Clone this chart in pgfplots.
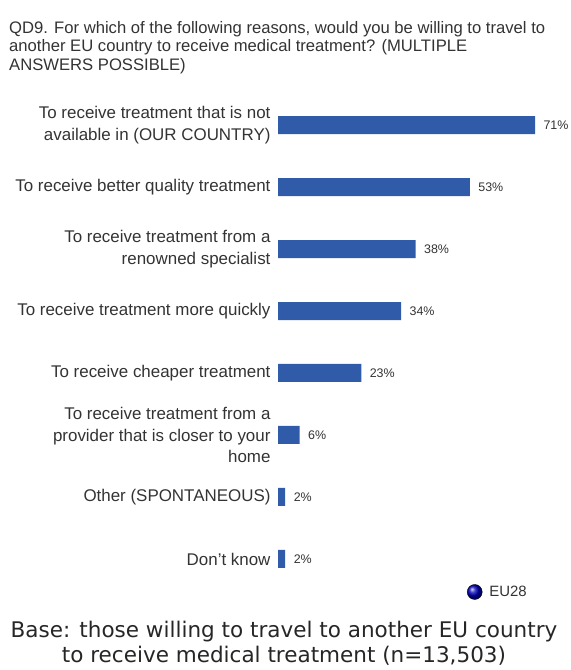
\documentclass[border=0pt]{standalone}
\usepackage{pgfplots}
\pgfplotsset{compat=1.18}
\usepackage{fontspec}
\setmainfont{Liberation Sans}
\newfontfamily\verdanalike{DejaVu Sans}
\definecolor{barblue}{HTML}{2F5BA8}
\definecolor{txt}{HTML}{333333}
\begin{document}
\begin{tikzpicture}
\useasboundingbox (0bp,0bp) rectangle (571bp,670bp);
\node[anchor=north west, align=left, text=txt, font=\fontsize{16.7}{18.6}\selectfont, inner sep=0pt]
  at (9bp,649bp) {QD9. For which of the following reasons, would you be willing to travel to\\
  another EU country to receive medical treatment? (MULTIPLE\\ANSWERS POSSIBLE)};
\begin{axis}[
    at={(278bp,80bp)}, anchor=south west,
    scale only axis,
    width=289.6bp, height=496bp,
    xbar, bar width=18bp, bar shift=0pt,
    xmin=0, xmax=80,
    ymin=-0.5, ymax=7.5,
    axis line style={draw=none},
    xtick=\empty,
    ytick={0,1,2,3,4,5,6,7},
    yticklabels={
      {Don't know},
      {Other (SPONTANEOUS)},
      {To receive treatment from a\\provider that is closer to your\\home},
      {To receive cheaper treatment},
      {To receive treatment more quickly},
      {To receive treatment from a\\renowned specialist},
      {To receive better quality treatment},
      {To receive treatment that is not\\available in (OUR COUNTRY)}},
    yticklabel style={align=right, text=txt, font=\fontsize{17}{21.5}\selectfont, xshift=-4bp},
    major tick length=0pt,
    /pgf/number format/assume math mode=true,
    nodes near coords={\pgfmathprintnumber{\pgfplotspointmeta}\%},
    nodes near coords style={font=\fontsize{12.5}{14}\selectfont, text=txt, xshift=5bp},
    legend style={at={(0.877,-0.004)}, anchor=east, draw=none, fill=none,
      font=\fontsize{15}{16}\selectfont, text=txt},
  ]
\addplot[fill=barblue, draw=none, forget plot] coordinates {
  (2,0) (2,1) (6,2) (23,3) (34,4) (38,5) (53,6) (71,7)};
\addlegendimage{legend image code/.code={\shade[ball color=blue!75!black] (0pt,0pt) circle (7.5bp);}}
\legend{\hspace{5bp}EU28}
\end{axis}
\node[align=center, text=black!85, font=\verdanalike\fontsize{21.6}{25}\selectfont, inner sep=0pt]
  at (284bp,27bp) {Base: those willing to travel to another EU country\\to receive medical treatment (n=13,503)};
\end{tikzpicture}
\end{document}
